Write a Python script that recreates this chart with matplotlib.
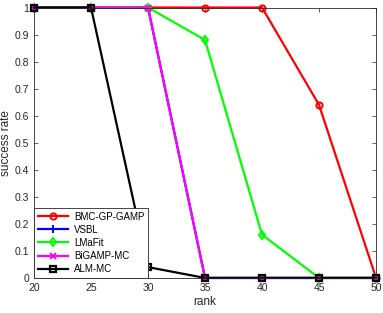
import matplotlib
matplotlib.use("Agg")
import matplotlib.pyplot as plt

plt.rcParams['font.family'] = ['Liberation Sans', 'DejaVu Sans']

rank = [20, 25, 30, 35, 40, 45, 50]
bmc = [1, 1, 1, 1, 1, 0.64, 0]
vsbl = [1, 1, 1, 0, 0, 0, 0]
lmafit = [1, 1, 1, 0.88, 0.16, 0, 0]
bigamp = [1, 1, 1, 0, 0, 0, 0]
alm = [1, 1, 0.04, 0, 0, 0, 0]

fig = plt.figure(figsize=(3.83, 3.13), dpi=100)
ax = fig.add_axes([0.0888, 0.112, 0.893, 0.864])

lw = 1.6
ms = 4.5
kw = dict(lw=lw, clip_on=False)
ax.plot(rank, bmc, color='#ff0000', marker='o', ms=ms, mfc='none', mew=1.4, label='BMC-GP-GAMP', **kw)
ax.plot(rank, vsbl, color='#0000ff', marker='+', ms=ms+1, mew=1.4, label='VSBL', **kw)
ax.plot(rank, lmafit, color='#00ff00', marker='d', ms=ms, mfc='none', mew=1.4, label='LMaFit', **kw)
ax.plot(rank, bigamp, color='#ff00ff', marker='x', ms=ms, mew=1.4, label='BiGAMP-MC', **kw)
ax.plot(rank, alm, color='#000000', marker='s', ms=ms, mfc='none', mew=1.6, label='ALM-MC', **kw)

ax.set_xlim(20, 50)
ax.set_ylim(0, 1)
ax.set_xticks([20, 25, 30, 35, 40, 45, 50])
ax.set_yticks([0, 0.1, 0.2, 0.3, 0.4, 0.5, 0.6, 0.7, 0.8, 0.9, 1])
ax.set_yticklabels(['0', '0.1', '0.2', '0.3', '0.4', '0.5', '0.6', '0.7', '0.8', '0.9', '1'])
ax.tick_params(direction='in', top=True, right=True, labelsize=7.5, colors='#262626', length=3, width=0.5)
for s in ax.spines.values():
    s.set_color('#262626')
    s.set_linewidth(0.6)
ax.set_xlabel('rank', fontsize=8.5, color='#262626', labelpad=2)
ax.set_ylabel('success rate', fontsize=8.5, color='#262626', labelpad=2)

leg = ax.legend(loc='lower left', fontsize=7, frameon=True, fancybox=False, framealpha=1,
                edgecolor='#262626', borderaxespad=0, handlelength=3.1,
                labelspacing=0.32, borderpad=0.4, handletextpad=0.6)
leg.get_frame().set_linewidth(0.6)
leg.set_zorder(5)

fig.savefig('out.png', dpi=100)
